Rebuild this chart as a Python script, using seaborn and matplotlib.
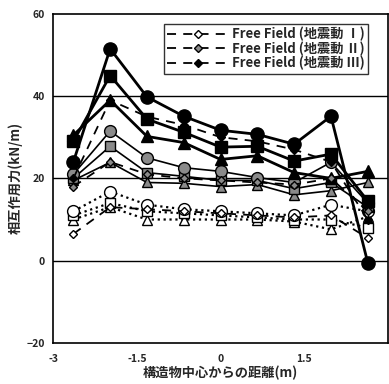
import numpy as np
import pandas as pd
import matplotlib
matplotlib.use("Agg")
import matplotlib.pyplot as plt
import seaborn as sns

sns.set_theme(style="white")
plt.rcParams['font.family'] = ['Noto Sans CJK JP', 'DejaVu Sans']

x = [-2.64, -1.98, -1.32, -0.66, 0.0, 0.66, 1.32, 1.98, 2.64]

black_circle = [24, 51.5, 39.8, 35.1, 31.7, 30.7, 28.3, 35.1, -0.5]
black_square = [29, 45, 34.4, 31.2, 27.6, 27.8, 24.2, 25.9, 14.5]
black_triangle = [30.5, 39, 30.2, 28.7, 24.6, 25.5, 21.4, 20, 21.7]
gray_circle = [21, 31.5, 25, 22.6, 21.7, 20.2, 19, 23.9, 14]
gray_square = [20, 27.8, 21.4, 20.5, 19.5, 19.5, 17.5, 19, 13]
gray_triangle = [19.5, 23.9, 19, 18.8, 18, 18.5, 16, 17, 19]
open_circle = [12, 16.8, 13.6, 12.5, 12, 11.5, 11, 13.6, 12]
open_square = [11, 14, 12, 11.5, 11, 10.5, 10, 10, 8]
open_triangle = [10, 13, 10, 10, 10, 10, 9.5, 7.6, 10.7]
ff_1 = [6.5, 13, 12.5, 12, 11.5, 11, 10.5, 11, 5.5]
ff_2 = [18, 24, 21, 20, 19.5, 19, 18.5, 20, 12]
ff_3 = [20, 39, 35, 33, 30, 29, 27, 24, 10]

ff_labels = ["Free Field (地震動 Ⅰ)", "Free Field (地震動 Ⅱ)", "Free Field (地震動 Ⅲ)"]
xticks = [-3, -1.5, 0, 1.5]
yticks = [-20, 0, 20, 40, 60]

fig = plt.figure(figsize=(3.89, 3.84), dpi=100)
ax = fig.add_axes([0.137, 0.107, 0.86, 0.857])

# grid lines
for yv in [0, 20, 40]:
    ax.axhline(yv, color='black', lw=1.0, zorder=0)

def draw(vals, marker, ls, lw, mfc, ms, label=None, z=2):
    sns.lineplot(x=x, y=vals, ax=ax, color='black', linestyle=ls, linewidth=lw,
                 marker=marker, markersize=ms, markerfacecolor=mfc,
                 markeredgecolor='black', markeredgewidth=1.0, label=label,
                 legend=False, zorder=z)

# open series (dotted)
draw(open_triangle, '^', ':', 1.6, 'white', 7.5)
draw(open_square, 's', ':', 1.6, 'white', 7.5)
draw(open_circle, 'o', ':', 1.6, 'white', 8.5)
# gray hatched series
draw(gray_triangle, '^', '-', 1.2, '#8a8a8a', 7.5)
draw(gray_square, 's', '-', 1.2, '#8a8a8a', 7.5)
draw(gray_circle, 'o', '-', 1.2, '#8a8a8a', 8.5)
# black series
draw(black_triangle, '^', '-', 2.0, 'black', 8, z=3)
draw(black_square, 's', '-', 2.0, 'black', 8.5, z=3)
draw(black_circle, 'o', '-', 2.0, 'black', 9.5, z=3)
# free field dashed
draw(ff_1, 'D', (0, (5, 4)), 1.3, 'white', 4, label=ff_labels[0], z=4)
draw(ff_2, 'D', (0, (5, 4)), 1.3, '#8a8a8a', 4, label=ff_labels[1], z=4)
draw(ff_3, 'D', (0, (5, 4)), 1.3, 'black', 4, label=ff_labels[2], z=4)

ax.set_xlim(-3, 3)
ax.set_ylim(-20, 60)
ax.set_xticks(xticks)
ax.set_xticklabels(["-3", "-1.5", "0", "1.5"])
ax.set_yticks(yticks)
ax.tick_params(axis='both', direction='in', length=3, width=0.8, labelsize=7.5, pad=6)
ax.tick_params(axis='x', pad=8)
for lab in ax.get_xticklabels() + ax.get_yticklabels():
    lab.set_fontweight('bold')
for sp in ax.spines.values():
    sp.set_color('black')
    sp.set_linewidth(1.2)

ax.set_xlabel("構造物中心からの距離(m)", fontsize=9.5, fontweight='bold', labelpad=1)
ax.set_ylabel("相互作用力(kN/m)", fontsize=9.5, fontweight='bold', labelpad=3)

handles, labels = ax.get_legend_handles_labels()
leg = ax.legend(handles[-3:], labels[-3:], loc='upper right', bbox_to_anchor=(0.96, 0.99),
                fontsize=9.5, frameon=True, fancybox=False, edgecolor='black',
                handlelength=4.6, borderpad=0.25, labelspacing=0.0, handletextpad=0.3)
leg.get_frame().set_linewidth(1.0)
for t in leg.get_texts():
    t.set_fontweight('bold')

fig.savefig("out.png", dpi=100)
